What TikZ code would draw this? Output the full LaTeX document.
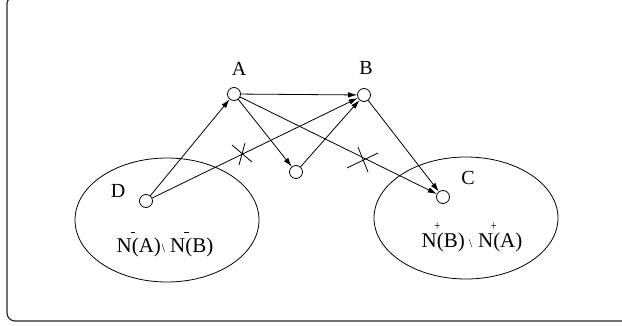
\documentclass[tikz,border=0pt]{standalone}
\usepackage{fontspec}
\setmainfont{Liberation Serif}
\usetikzlibrary{arrows.meta}

% N with a small mark at its upper right corner
\newcommand{\Nminus}{N\rlap{\kern-1.2pt\raisebox{19.5pt}{\rule{4.5pt}{0.9pt}}}}
\newcommand{\Nplus}{N\rlap{\kern-2.4pt\raisebox{16.5pt}{\fontsize{12}{12}\selectfont\scalebox{0.85}[1.15]{+}}}}
\newcommand{\smallbs}{{\fontsize{12}{12}\selectfont\textbackslash}}

\tikzset{
  vertex/.style={circle, draw, line width=0.8pt, minimum size=13pt, inner sep=0pt},
  vlabel/.style={inner sep=0pt, font=\fontsize{20}{20}\selectfont},
  setlabel/.style={inner sep=0pt, anchor=base, font=\fontsize{21}{21}\selectfont},
  region/.style={draw, line width=0.8pt},
  edge/.style={line width=0.8pt, -{Latex[length=9pt,width=5.5pt]}},
  cut/.style={line width=0.8pt},
  frame/.style={draw=black!85, line width=1.2pt, rounded corners=8pt}
}

\begin{document}
\begin{tikzpicture}[x=1pt, y=-1pt]
  \useasboundingbox (0,0) rectangle (622,325);
  \clip (0,0) rectangle (622,325);

  % outer frame, open to the top and right
  \draw[frame] (7,-4) rectangle (640,321);

  % the two vertex sets
  \draw[region] (167,220) ellipse [x radius=92, y radius=62];
  \draw[region] (466,218) ellipse [x radius=92, y radius=61];

  % vertices
  \node[vertex] (A) at (234,94) {};
  \node[vertex] (B) at (364,95) {};
  \node[vertex] (M) at (296,172) {};
  \node[vertex] (C) at (443,197) {};
  \node[vertex] (D) at (146,201) {};

  % vertex names
  \node[vlabel] (lA) at (239,69) {A};
  \node[vlabel] (lB) at (366,68) {B};
  \node[vlabel] (lD) at (118,191) {D};
  \node[vlabel] (lC) at (468,178) {C};

  % set descriptions
  \node[setlabel] (sD) at (165,252) {\Nminus(A)\kern1pt\smallbs\kern5pt\Nminus(B)};
  \node[setlabel] (sC) at (472,247) {\Nplus(B)\kern4pt\smallbs\kern6pt\Nplus(A)};

  % arcs
  \draw[edge] (D) -- (A);
  \draw[edge] (D) -- (B);
  \draw[edge] (A) -- (B);
  \draw[edge] (A) -- (M);
  \draw[edge] (M) -- (B);
  \draw[edge] (A) -- (C);
  \draw[edge] (B) -- (C);

  % crossed-out arcs
  \coordinate (x1) at (242,154);
  \coordinate (x2) at (363,159);
  \draw[cut] ([shift={(-10,-9)}]x1) -- ([shift={(10,8)}]x1);
  \draw[cut] ([shift={(3,-11)}]x1) -- ([shift={(-3,11)}]x1);
  \draw[cut] ([shift={(-16,9)}]x2) -- ([shift={(15,-6)}]x2);
  \draw[cut] ([shift={(-5,-12)}]x2) -- ([shift={(5,13)}]x2);
\end{tikzpicture}
\end{document}
